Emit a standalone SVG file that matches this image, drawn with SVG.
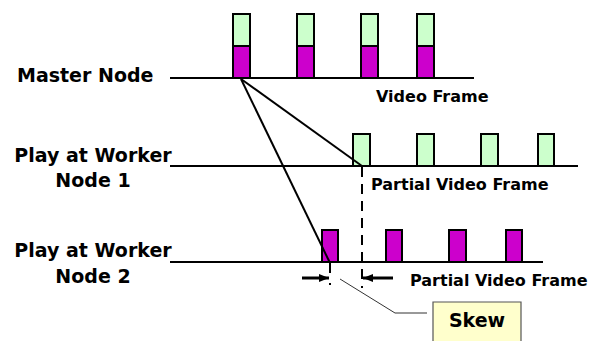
<svg xmlns="http://www.w3.org/2000/svg" width="597" height="341" viewBox="0 0 597 341">
  <style>
    .lbl { font-family: "DejaVu Sans", Verdana, sans-serif; font-weight: bold; fill: #000; }
    .big { font-size: 19px; }
    .small { font-size: 16px; }
    .axis { stroke: #000; stroke-width: 2; fill: none; }
    .green { fill: #CCFFCC; stroke: #000; stroke-width: 2; }
    .mag { fill: #CC00CC; stroke: #000; stroke-width: 2; }
    .link { stroke: #000; stroke-width: 2; fill: none; }
    .dim { stroke: #000; stroke-width: 3; fill: none; }
    .dash { stroke: #000; stroke-width: 2; fill: none; stroke-dasharray: 10 7; }
    .thin { stroke: #333; stroke-width: 1; fill: none; }
  </style>
  <defs>
    <marker id="arrow" viewBox="0 0 10 8" refX="10" refY="4" markerWidth="10" markerHeight="8" orient="auto" markerUnits="userSpaceOnUse">
      <path d="M0,0 L10,4 L0,8 Z" fill="#000"/>
    </marker>
  </defs>
  <rect width="597" height="341" fill="#fff"/>

  <!-- master timeline: full frames (partial top + partial bottom) -->
  <g id="master-node">
    <text class="lbl big" x="17" y="82">Master Node</text>
    <line class="axis" x1="170" y1="78" x2="474" y2="78"/>
    <rect class="green" x="233" y="14" width="17" height="32"/>
    <rect class="mag" x="233" y="46" width="17" height="32"/>
    <rect class="green" x="297" y="14" width="17" height="32"/>
    <rect class="mag" x="297" y="46" width="17" height="32"/>
    <rect class="green" x="361" y="14" width="17" height="32"/>
    <rect class="mag" x="361" y="46" width="17" height="32"/>
    <rect class="green" x="417" y="14" width="17" height="32"/>
    <rect class="mag" x="417" y="46" width="17" height="32"/>
    <text class="lbl small" x="376" y="102">Video Frame</text>
  </g>

  <!-- worker 1 timeline: top halves -->
  <g id="worker-node-1">
    <text class="lbl big" x="93" y="162" text-anchor="middle">Play at Worker</text>
    <text class="lbl big" x="93" y="187" text-anchor="middle">Node 1</text>
    <line class="axis" x1="170" y1="166" x2="578" y2="166"/>
    <rect class="green" x="353" y="134" width="17" height="32"/>
    <rect class="green" x="417" y="134" width="17" height="32"/>
    <rect class="green" x="481" y="134" width="17" height="32"/>
    <rect class="green" x="538" y="134" width="16" height="32"/>
    <text class="lbl small" x="371" y="190">Partial Video Frame</text>
  </g>

  <!-- worker 2 timeline: bottom halves -->
  <g id="worker-node-2">
    <text class="lbl big" x="93" y="257" text-anchor="middle">Play at Worker</text>
    <text class="lbl big" x="93" y="283" text-anchor="middle">Node 2</text>
    <line class="axis" x1="170" y1="262" x2="543" y2="262"/>
    <rect class="mag" x="322" y="230" width="16" height="32"/>
    <rect class="mag" x="386" y="230" width="16" height="32"/>
    <rect class="mag" x="449" y="230" width="17" height="32"/>
    <rect class="mag" x="506" y="230" width="16" height="32"/>
    <text class="lbl small" x="410" y="286">Partial Video Frame</text>
  </g>

  <!-- skew callout -->
  <g id="skew">
    <polyline class="thin" points="340,279 395,313 427,313"/>
    <path d="M433,341 V302 H521 V341" fill="#FFFFCC" stroke="#555" stroke-width="1.2"/>
    <text class="lbl big" x="477" y="327" text-anchor="middle">Skew</text>
  </g>

  <g id="connectors">
    <line class="link" x1="241" y1="79" x2="362" y2="166"/>
    <line class="link" x1="241" y1="79" x2="330" y2="263"/>
    <line class="dash" x1="362" y1="167" x2="362" y2="288"/>
    <line class="link" x1="330" y1="263" x2="330" y2="273"/>
    <rect x="329" y="283" width="2" height="2" fill="#000"/>
    <line class="dim" x1="302" y1="278" x2="329" y2="278" marker-end="url(#arrow)"/>
    <line class="dim" x1="393" y1="278" x2="363" y2="278" marker-end="url(#arrow)"/>
  </g>
</svg>
